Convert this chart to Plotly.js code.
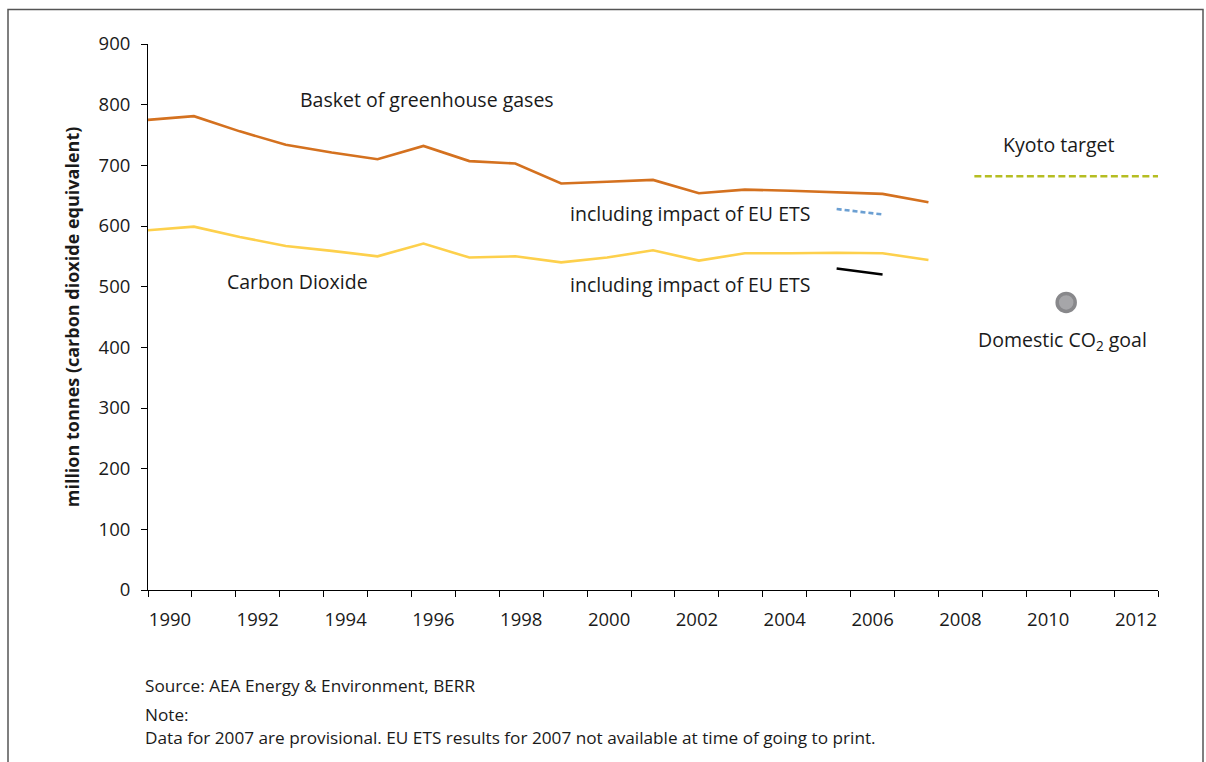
<!DOCTYPE html>
<html>
<head>
<meta charset="utf-8">
<script src="https://cdn.plot.ly/plotly-3.0.1.min.js"></script>
<style>
  html, body { margin: 0; padding: 0; background: #ffffff; }
  #chart { width: 1206px; height: 762px; }
</style>
</head>
<body>
<div id="chart"></div>
<script>
// ---- Data ----
const axisYears = ['1990','1991','1992','1993','1994','1995','1996','1997','1998','1999','2000','2001','2002','2003','2004','2005','2006','2007','2008','2009','2010','2011','2012'];
const axisLabels = ['1990','','1992','','1994','','1996','','1998','','2000','','2002','','2004','','2006','','2008','','2010','','2012'];

const years = [1990,1991,1992,1993,1994,1995,1996,1997,1998,1999,2000,2001,2002,2003,2004,2005,2006,2007];
const basket = [775,781,756,734,721,710,732,707,703,670,673,676,654,660,658,656,653,639];
const carbonDioxide = [593,599,582,567,559,550,571,548,550,540,548,560,543,555,555,556,555,544];

const etsYears = [2005, 2006];
const basketWithEts = [628, 619];
const co2WithEts = [530, 520];

const kyotoYears = [2008, 2012];
const kyotoTarget = [682, 682];

const goalYears = [2010];
const domesticGoal = [474];

const yTitle = 'million tonnes (carbon dioxide equivalent)';
const sourceText = 'Source: AEA Energy &amp; Environment, BERR';
const noteText = 'Note:';
const noteBody = 'Data for 2007 are provisional. EU ETS results for 2007 not available at time of going to print.';

// ---- Styling ----
const FONT = '"Open Sans", "Noto Sans", sans-serif';
const TXT = '#1a1a1a';
const ANN_SIZE = 19.5;
const FOOT_SIZE = 17.2;

const traces = [
  { x: axisYears, y: axisYears.map(() => null), xaxis: 'x', yaxis: 'y', mode: 'lines', showlegend: false, hoverinfo: 'skip' },
  { x: years, y: basket, xaxis: 'x2', yaxis: 'y', mode: 'lines', name: 'Basket of greenhouse gases',
    line: { color: '#d4711f', width: 2.6 } },
  { x: years, y: carbonDioxide, xaxis: 'x2', yaxis: 'y', mode: 'lines', name: 'Carbon Dioxide',
    line: { color: '#fdd04c', width: 2.6 } },
  { x: etsYears, y: basketWithEts, xaxis: 'x2', yaxis: 'y', mode: 'lines', name: 'Basket incl. EU ETS',
    line: { color: '#6b9fd2', width: 2.6, dash: '5px,3px' } },
  { x: etsYears, y: co2WithEts, xaxis: 'x2', yaxis: 'y', mode: 'lines', name: 'CO2 incl. EU ETS',
    line: { color: '#000000', width: 2.4 } },
  { x: kyotoYears, y: kyotoTarget, xaxis: 'x2', yaxis: 'y', mode: 'lines', name: 'Kyoto target',
    line: { color: '#b5bd22', width: 2.4, dash: '7px,3.5px' } },
  { x: goalYears, y: domesticGoal, xaxis: 'x2', yaxis: 'y', mode: 'markers', name: 'Domestic CO2 goal',
    marker: { size: 18, color: '#a6a6a9', line: { color: '#88888b', width: 3.5 } } }
];

function ann(text, x, y, extra) {
  return Object.assign({ text: text, x: x, y: y, xref: 'x2', yref: 'y', showarrow: false,
    font: { family: FONT, size: ANN_SIZE, color: TXT }, xanchor: 'center', yanchor: 'middle' }, extra || {});
}

const layout = {
  width: 1206, height: 762,
  margin: { l: 148, r: 48, t: 44, b: 172 },
  paper_bgcolor: '#ffffff', plot_bgcolor: '#ffffff',
  showlegend: false,
  font: { family: FONT, size: 18, color: TXT },
  xaxis: {
    type: 'category', categoryorder: 'array', categoryarray: axisYears,
    range: [-0.5, 22.5], tickmode: 'array', tickvals: axisYears, ticktext: axisLabels,
    tickson: 'boundaries', ticks: 'outside', ticklen: 6, tickwidth: 1, tickcolor: '#000',
    tickangle: 0, ticklabelstandoff: 13,
    showline: true, linecolor: '#000', linewidth: 1, showgrid: false, zeroline: false,
    tickfont: { family: FONT, size: 18.5, color: TXT }, fixedrange: true
  },
  xaxis2: {
    type: 'linear', overlaying: 'x', range: [1990, 2012], visible: false, fixedrange: true
  },
  yaxis: {
    range: [0, 900], dtick: 100, tick0: 0, ticks: 'outside', ticklen: 6, tickwidth: 1, tickcolor: '#000',
    ticklabelstandoff: 7,
    showline: true, linecolor: '#000', linewidth: 1, showgrid: false, zeroline: false,
    tickfont: { family: FONT, size: 18.5, color: TXT }, fixedrange: true,
    title: { text: '<b>' + yTitle + '</b>', font: { family: FONT, size: 18, color: TXT }, standoff: 14 }
  },
  annotations: [
    ann('Basket of greenhouse gases', 1996.08, 808),
    ann('Carbon Dioxide', 1993.25, 509),
    ann('including impact of EU ETS', 2001.8, 621),
    ann('including impact of EU ETS', 2001.8, 504),
    ann('Kyoto target', 2009.84, 735),
    ann('Domestic CO<sub>2</sub> goal', 2009.93, 412),
    { text: sourceText, xref: 'paper', yref: 'paper', x: (143 - 148) / 1010, y: (590 - 685) / 546,
      xanchor: 'left', yanchor: 'middle', showarrow: false, font: { family: FONT, size: FOOT_SIZE, color: TXT } },
    { text: noteText, xref: 'paper', yref: 'paper', x: (143 - 148) / 1010, y: (590 - 714) / 546,
      xanchor: 'left', yanchor: 'middle', showarrow: false, font: { family: FONT, size: FOOT_SIZE, color: TXT } },
    { text: noteBody, xref: 'paper', yref: 'paper', x: (143 - 148) / 1010, y: (590 - 737) / 546,
      xanchor: 'left', yanchor: 'middle', showarrow: false, font: { family: FONT, size: FOOT_SIZE, color: TXT } }
  ],
  shapes: [
    { type: 'path', xref: 'paper', yref: 'paper',
      path: 'M ' + ((8 - 148) / 1010) + ' ' + ((590 - 800) / 546) +
            ' L ' + ((8 - 148) / 1010) + ' ' + ((590 - 9.5) / 546) +
            ' L ' + ((1203 - 148) / 1010) + ' ' + ((590 - 9.5) / 546) +
            ' L ' + ((1203 - 148) / 1010) + ' ' + ((590 - 800) / 546),
      line: { color: '#555555', width: 1.5 } }
  ]
};

Plotly.newPlot('chart', traces, layout, { displayModeBar: false, staticPlot: true });
</script>
</body>
</html>
